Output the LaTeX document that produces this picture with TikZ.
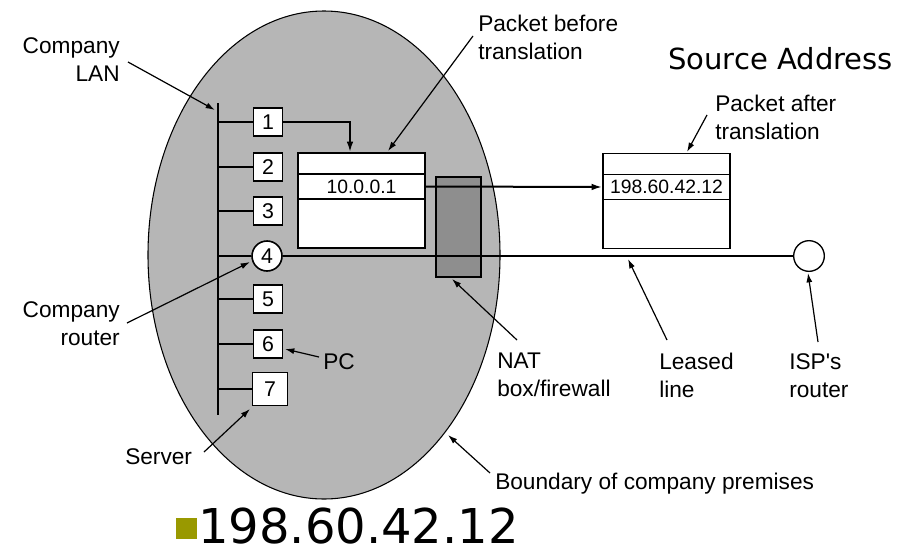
\documentclass[tikz,border=0pt]{standalone}
\usepackage{fontspec}
\setmainfont{Liberation Sans}
\newfontfamily\dvfont{DejaVu Sans}
\usetikzlibrary{arrows.meta,shapes.geometric}
\definecolor{prem}{HTML}{B6B6B6}
\definecolor{natc}{HTML}{8E8E8E}
\definecolor{olivebul}{HTML}{999900}
\begin{document}
\begin{tikzpicture}[x=0.75pt,y=-0.75pt,
  lbl/.style={inner sep=0pt, font=\fontsize{17}{21}\selectfont},
  host/.style={draw, fill=white, line width=1.2pt, minimum width=22pt, minimum height=21pt, inner sep=0pt, font=\fontsize{16}{16}\selectfont},
  rtr/.style={draw, fill=white, circle, line width=1.2pt, minimum size=22.5pt, inner sep=0pt, font=\fontsize{16}{16}\selectfont},
  wire/.style={line width=1.5pt},
  ptr/.style={line width=0.9pt, -{Latex[length=7pt,width=4.5pt]}},
  pkt/.style={draw, fill=white, line width=1.1pt, minimum width=95.25pt, minimum height=71.25pt, inner sep=0pt},
  fld/.style={draw, line width=1.1pt, minimum width=95.25pt, minimum height=18.75pt, inner sep=0pt, font=\fontsize{14.5}{15}\selectfont}]
\useasboundingbox (0,0) rectangle (917,546);

% premises
\node[ellipse, draw, fill=prem, line width=0.8pt, minimum width=264pt, minimum height=366pt, inner sep=0pt] (prem) at (324,255) {};

% LAN
\coordinate (lanT) at (218,103);
\coordinate (lanB) at (218,415);
\draw[wire] (lanT) -- (lanB);

\node[host] (h1) at (268,122) {1};
\node[host] (h2) at (268,167) {2};
\node[host] (h3) at (268,211) {3};
\node[rtr]  (r4) at (267,256) {4};
\node[host] (h5) at (268,299) {5};
\node[host] (h6) at (268,344) {6};
\node[host, minimum width=26pt, minimum height=25pt] (h7) at (270,389) {7};

\foreach \n in {h1,h2,h3,r4,h5,h6,h7}
  \draw[wire] (\n.west -| lanT) -- (\n.west);

% packets
\node[pkt] (pb) at (361.5,200.5) {};
\node[fld] (pbf) at (361.5,186.5) {10.0.0.1};
\node[pkt] (pa) at (666.5,201) {};
\node[fld] (paf) at (666.5,187) {198.60.42.12};

\coordinate (bend) at (350,122);
\draw[wire, -{Latex[length=8pt,width=5pt]}] (h1.east) -- (bend) -- (bend |- pb.north);

% NAT box
\node[draw, fill=natc, line width=1pt, minimum width=33.75pt, minimum height=75pt, inner sep=0pt] (nat) at (458.5,227) {};

% ISP router
\node[circle, draw, fill=white, line width=1pt, minimum size=23pt, inner sep=0pt] (isp) at (809,256) {};

\draw[wire, -{Latex[length=8pt,width=5pt]}] (pbf.east) -- (paf.west);
\draw[wire] (r4.east) -- (isp.west);

% labels
\node[lbl, align=right, anchor=north east] (lLAN) at (120,37) {Company\\LAN};
\node[lbl, align=left, anchor=north west] (lPB) at (478,15) {Packet before\\translation};
\node[lbl, align=left, anchor=north west] (lPA) at (715,95) {Packet after\\translation};
\node[lbl, align=right, anchor=north east] (lCR) at (120,301) {Company\\router};
\node[lbl, anchor=north west] (lPC) at (323,353) {PC};
\node[lbl, anchor=north west] (lSrv) at (125,448) {Server};
\node[lbl, align=left, anchor=north west] (lNAT) at (497,353) {NAT\\box/firewall};
\node[lbl, align=left, anchor=north west] (lLL) at (659,353) {Leased\\line};
\node[lbl, align=left, anchor=north west] (lISP) at (789,353) {ISP\textquotesingle s\\router};
\node[lbl, anchor=north west] (lBnd) at (495,473) {Boundary of company premises};

% pointer arrows
\coordinate (a1s) at (128,62);   \coordinate (a1e) at (215,110);
\coordinate (a2s) at (473,36);   \coordinate (a2e) at (388,151);
\coordinate (a3s) at (707,115);  \coordinate (a3e) at (687,152);
\coordinate (a4s) at (127,323);  \coordinate (a4e) at (250,262);
\coordinate (a5s) at (319,357);  \coordinate (a5e) at (285,349);
\coordinate (a6s) at (204,452);  \coordinate (a6e) at (250,409);
\coordinate (a7s) at (517,340);  \coordinate (a7e) at (452,279);
\coordinate (a8s) at (667,340);  \coordinate (a8e) at (628,259);
\coordinate (a9s) at (818,342);  \coordinate (a9e) at (808,273);
\coordinate (a10s) at (490,473); \coordinate (a10e) at (448,435);
\foreach \i in {1,...,10}
  \draw[ptr] (a\i s) -- (a\i e);

% slide text
\node[inner sep=0pt, anchor=base west, font=\dvfont\fontsize{21.8}{24}\selectfont] (src) at (668,69) {Source Address};
\node[inner sep=0pt, fill=olivebul, minimum size=15.75pt] (bul) at (186.5,528.5) {};
\node[inner sep=0pt, anchor=base west, font=\dvfont\fontsize{36}{40}\selectfont] (addr) at (198,543) {198.60.42.12};
\end{tikzpicture}
\end{document}
